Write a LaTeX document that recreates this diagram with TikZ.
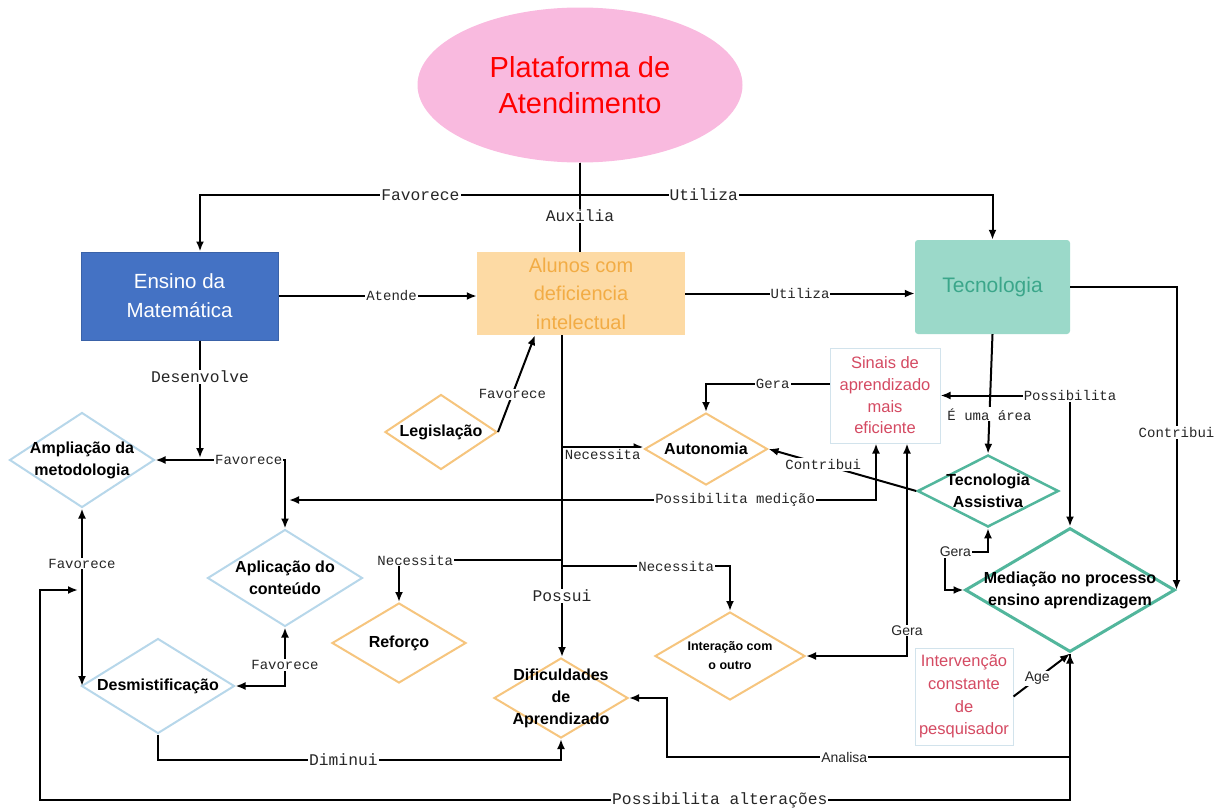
\documentclass[tikz,border=0pt]{standalone}
\usepackage{fontspec}
\setmainfont{Liberation Sans}
\setmonofont{Liberation Mono}
\usepackage{tikz}
\usepackage{xcolor}
\usetikzlibrary{shapes.geometric, arrows.meta, positioning}
\definecolor{pinkfill}{HTML}{F9BADF}
\definecolor{ensinoblue}{HTML}{4472C4}
\definecolor{ensinoborder}{HTML}{3A62A8}
\definecolor{alunosfill}{HTML}{FDDAA4}
\definecolor{alunostext}{HTML}{F2AC45}
\definecolor{tecfill}{HTML}{9BD9C9}
\definecolor{tectext}{HTML}{3BA68A}
\definecolor{dorange}{HTML}{F6C57E}
\definecolor{dblue}{HTML}{B7D7EA}
\definecolor{dteal}{HTML}{52B69C}
\definecolor{sinaistext}{HTML}{D44A62}
\definecolor{sinaisborder}{HTML}{D2E3EC}
\tikzstyle{line} = [draw, line width=2pt, ->]
\tikzstyle{dline} = [draw, line width=2pt, <->]
\tikzstyle{plain} = [draw, line width=2pt]
\tikzstyle{lbl} = [fill=white, inner sep=1pt, text=black!85,
    font=\fontsize{14}{16}\selectfont\ttfamily]
\tikzstyle{lbig} = [fill=white, inner sep=1pt, text=black!85,
    font=\fontsize{16.3}{18}\selectfont\ttfamily]
\tikzstyle{slbl} = [fill=white, inner sep=1pt, text=black!85,
    font=\fontsize{14}{16}\selectfont]
\tikzstyle{box} = [rectangle, inner sep=0pt, align=center]
\tikzstyle{decision} = [diamond, draw, line width=2pt, inner sep=0pt,
    fill=white]
\tikzset{
  dtxt/.style={label={[align=center,
      font=\fontsize{16}{22}\selectfont\bfseries]center:#1}},
  dsmall/.style={label={[align=center,
      font=\fontsize{12.5}{19}\selectfont\bfseries]center:#1}}
}

\begin{document}
\begin{tikzpicture}[x=1pt, y=-1pt, >={Latex[length=10pt,width=8pt]}]
	\useasboundingbox (0,0) rectangle (1224,809);
	% boxes
	\node [ellipse, fill=pinkfill, minimum width=325pt, minimum height=155pt,
		inner sep=0pt, text=red, align=center,
		font=\fontsize{29}{36}\selectfont] (plataforma) at (580,85)
		{Plataforma de\\Atendimento};
	\node [box, fill=ensinoblue, draw=ensinoborder, line width=1pt,
		text=white, minimum width=197pt, minimum height=88pt,
		font=\fontsize{20.5}{29}\selectfont] (ensino) at (179.5,296)
		{Ensino da\\Matemática};
	\node [box, fill=alunosfill, text=alunostext, minimum width=208pt,
		minimum height=83pt, font=\fontsize{20}{28.5}\selectfont]
		(alunos) at (581,293.5) {Alunos com\\deficiencia\\intelectual};
	\node [box, fill=tecfill, text=tectext, rounded corners=3pt,
		minimum width=155pt, minimum height=94pt,
		font=\fontsize{21}{28}\selectfont] (tecnologia) at (992.5,287)
		{Tecnologia};
	\node [box, draw=sinaisborder, line width=1pt, text=sinaistext,
		minimum width=110pt, minimum height=95pt,
		font=\fontsize{16.5}{21.7}\selectfont] (sinais) at (885,395.5)
		{Sinais de\\aprendizado\\mais\\eficiente};
	\node [box, draw=sinaisborder, line width=1pt, text=sinaistext,
		minimum width=98pt, minimum height=97pt,
		font=\fontsize{16.5}{22.7}\selectfont] (intervencao) at (964,696.5)
		{Intervenção\\constante\\de\\pesquisador};
	% diamonds
	\node [decision, draw=dblue, minimum width=145pt, minimum height=95pt,
		dtxt={Ampliação da\\metodologia}] (ampliacao) at (82,460) {};
	\node [decision, draw=dblue, minimum width=155pt, minimum height=97pt,
		dtxt={Aplicação do\\conteúdo}] (aplicacao) at (285,578) {};
	\node [decision, draw=dblue, minimum width=153pt, minimum height=95pt,
		dtxt={Desmistificação}] (desmist) at (158,686) {};
	\node [decision, draw=dorange, minimum width=112pt, minimum height=75pt,
		dtxt={Legislação}] (legislacao) at (441,432) {};
	\node [decision, draw=dorange, minimum width=123pt, minimum height=72pt,
		dtxt={Autonomia}] (autonomia) at (706,449) {};
	\node [decision, draw=dorange, minimum width=134pt, minimum height=80pt,
		dtxt={Reforço}] (reforco) at (399,643) {};
	\node [decision, draw=dorange, minimum width=134pt, minimum height=80pt,
		dtxt={Dificuldades\\de\\Aprendizado}] (dificuldades) at (561,698) {};
	\node [decision, draw=dorange, minimum width=150pt, minimum height=88pt,
		dsmall={Interação com\\o outro}] (interacao) at (730,656) {};
	\node [decision, draw=dteal, line width=2.5pt, minimum width=141pt,
		minimum height=72pt, dtxt={Tecnologia\\Assistiva}] (tecassist)
		at (988,491) {};
	\node [decision, draw=dteal, line width=3pt, minimum width=210pt,
		minimum height=124pt,
		dtxt={Mediação no processo\\ensino aprendizagem}] (mediacao)
		at (1070,590) {};
	% free ends
	\coordinate (tronco) at ([xshift=-19pt]alunos.south);
	\coordinate (medicao) at (289,500);
	\coordinate (desenv) at (200,458);
	\coordinate (alteracoes) at (78,590);
	% connectors
	\path [line] (plataforma.south) -- (580,195) -| node
		[lbig, pos=0.21] {Favorece} ([xshift=20.5pt]ensino.north);
	\path [line] (plataforma.south) -- (580,195) -| node
		[lbig, pos=0.15] {Utiliza} (tecnologia.north);
	\path [plain] (plataforma.south) -- node
		[lbig, pos=0.6] {Auxilia} (plataforma.south |- alunos.north);
	\path [line] (ensino.east) -- node
		[lbl, pos=0.57] {Atende} (ensino.east -| alunos.west);
	\path [line] (alunos.east) -- node
		[lbl] {Utiliza} (alunos.east -| tecnologia.west);
	\path [line] (tecnologia.east) -| node
		[lbl, pos=0.74] {Contribui} (mediacao.east);
	\path [line] (tecnologia.south) -- node
		[lbl, pos=0.67] {É uma área} (tecassist.north);
	\path [dline] (sinais.east) -| node
		[lbl, pos=0.5] {Possibilita} (mediacao.north);
	\path [line] ([yshift=11.5pt]sinais.west) -| node
		[lbl, pos=0.23] {Gera} (autonomia.north);
	\path [line] (tronco) |- node
		[lbl, below, pos=0.75] {Necessita} ([yshift=2pt]autonomia.west);
	\path [line] (tronco) -- node
		[lbig, pos=0.81] {Possui} (tronco |- dificuldades.north);
	\path [line] (tronco) -- (562,560) -| node
		[lbl, pos=0.45] {Necessita} (reforco.north);
	\path [line] (tronco) -- (562,566) -| node
		[lbl, pos=0.34] {Necessita} (interacao.north);
	\path [line] (tecassist.west) -- node
		[lbl, pos=0.63] {Contribui} (autonomia.east);
	\path [dline] ([xshift=-9pt]sinais.south) |- node
		[lbl, pos=0.62] {Possibilita medição} (medicao);
	\path [dline] (ampliacao.east) -| node
		[lbl, pos=0.36] {Favorece} (aplicacao.north);
	\path [line] ([xshift=20.5pt]ensino.south) -- node
		[lbig, pos=0.31] {Desenvolve} (desenv);
	\path [dline] (ampliacao.south) -- node
		[lbl, pos=0.31] {Favorece} (ampliacao.south |- desmist.west);
	\path [dline] (mediacao.south) |- node
		[lbig, pos=0.67] {Possibilita alterações} (40,800) |- (alteracoes);
	\path [line] (mediacao.south) |- node
		[slbl, pos=0.78] {Analisa} (667,757) |- (dificuldades.east);
	\path [dline] (interacao.east) -| node
		[slbl, pos=0.56] {Gera} ([xshift=22pt]sinais.south);
	\path [dline] (aplicacao.south) |- node
		[lbl, pos=0.32] {Favorece} (desmist.east);
	\path [line] (desmist.south) -- (158,760) -| node
		[lbig, pos=0.23] {Diminui} (dificuldades.south);
	\path [line] (legislacao.east) -- node
		[lbl, pos=0.39] {Favorece} ([xshift=-46pt]alunos.south);
	\path [dline] (tecassist.south) |- node
		[slbl, pos=0.88] {Gera} (945,552) |- (mediacao.west);
	\path [line] (intervencao.east) -- node
		[slbl, pos=0.42] {Age} (mediacao.south);
\end{tikzpicture}
\end{document}
